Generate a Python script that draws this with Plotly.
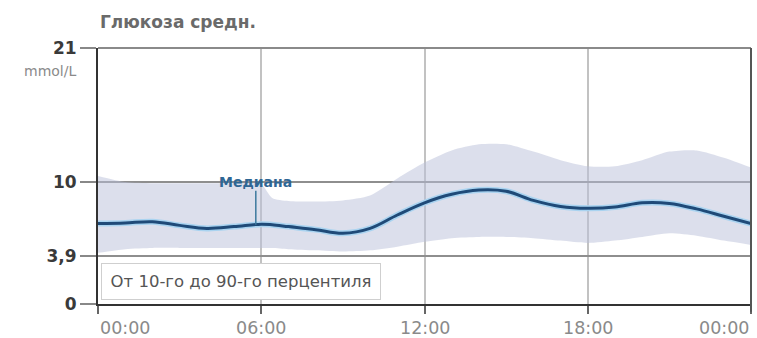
import numpy as np
import plotly.graph_objects as go

# Hour of day for each sample of the ambulatory glucose profile
hours = [0, 1, 2, 3, 4, 5, 6, 6.4, 7, 8, 9, 10, 11, 12, 13, 14, 15, 16, 17, 18, 19, 20, 21, 22, 23, 24]
# Median glucose, mmol/L
median = [6.6, 6.65, 6.75, 6.45, 6.2, 6.35, 6.55, 6.5, 6.35, 6.1, 5.8, 6.2, 7.3, 8.3, 9.0, 9.35, 9.25, 8.5, 8.0, 7.85, 7.95, 8.3, 8.25, 7.8, 7.2, 6.6]
# 90th percentile, mmol/L
p90 = [10.5, 10.0, 9.9, 9.9, 9.9, 9.9, 9.8, 8.7, 8.45, 8.4, 8.5, 8.9, 10.3, 11.6, 12.6, 13.1, 13.1, 12.5, 11.8, 11.3, 11.3, 11.8, 12.5, 12.6, 12.0, 11.2]
# 10th percentile, mmol/L
p10 = [4.2, 4.5, 4.6, 4.6, 4.6, 4.6, 4.6, 4.6, 4.5, 4.4, 4.3, 4.4, 4.7, 5.1, 5.4, 5.5, 5.5, 5.4, 5.2, 5.0, 5.2, 5.5, 5.8, 5.6, 5.2, 4.85]

y_ticks = [0, 3.9, 10, 21]
y_tick_text = ["0", "3,9", "10", "21"]
x_ticks = [0, 6, 12, 18, 24]
x_tick_text = ["00:00", "06:00", "12:00", "18:00", "00:00"]
x_tick_anchor = ["left", "center", "center", "center", "right"]

median_label_hour = 5.8

FONT = "DejaVu Sans"

fig = go.Figure()

# percentile band
fig.add_trace(go.Scatter(x=hours, y=p10, mode="lines",
                         line=dict(width=0, shape="spline", smoothing=0.7),
                         hoverinfo="skip", showlegend=False))
fig.add_trace(go.Scatter(x=hours, y=p90, mode="lines",
                         line=dict(width=0, shape="spline", smoothing=0.7),
                         fill="tonexty", fillcolor="rgba(186,192,218,0.5)",
                         hoverinfo="skip", showlegend=False))
# median line with a soft light-blue edge
fig.add_trace(go.Scatter(x=hours, y=median, mode="lines",
                         line=dict(width=6, color="#a9d3f0", shape="spline"),
                         hoverinfo="skip", showlegend=False))
fig.add_trace(go.Scatter(x=hours, y=median, mode="lines",
                         line=dict(width=3, color="#1f4a78", shape="spline"),
                         showlegend=False))

# pointer from the "Медиана" label to the curve
fig.add_shape(type="line", xref="x", yref="y",
              x0=median_label_hour, x1=median_label_hour,
              y0=float(np.interp(median_label_hour, hours, median)), y1=9.3,
              line=dict(color="#3d7a9e", width=1.5))

# top and right frame
fig.add_shape(type="line", xref="paper", yref="paper", x0=0, x1=1, y0=1, y1=1,
              line=dict(color="#8a8a8a", width=2))
fig.add_shape(type="line", xref="paper", yref="paper", x0=1, x1=1, y0=-0.03, y1=1,
              line=dict(color="#555555", width=2))

annotations = [
    dict(text="<b>Глюкоза средн.</b>", xref="paper", yref="paper", x=0, y=1.1,
         xanchor="left", yanchor="middle", showarrow=False,
         font=dict(family=FONT, size=17, color="#6a6a6a")),
    dict(text="mmol/L", xref="paper", yref="paper", x=-0.03, y=0.91,
         xanchor="right", yanchor="middle", showarrow=False,
         font=dict(family=FONT, size=14, color="#8a8a8a")),
    dict(text="<b>Медиана</b>", xref="x", yref="y", x=median_label_hour, y=10,
         xanchor="center", yanchor="middle", showarrow=False,
         font=dict(family=FONT, size=14, color="#2f6694")),
    dict(text="От 10-го до 90-го перцентиля", xref="x", yref="y", x=0, y=0,
         xanchor="left", yanchor="bottom", xshift=3, yshift=4, showarrow=False,
         width=274, height=31, borderpad=2, borderwidth=1, bordercolor="#cfcfcf",
         bgcolor="white", align="center",
         font=dict(family=FONT, size=16.5, color="#555555")),
]
for xv, txt, anc in zip(x_ticks, x_tick_text, x_tick_anchor):
    annotations.append(dict(text=txt, xref="x", yref="y", x=xv, y=0, xanchor=anc,
                            yanchor="top", yshift=-12, showarrow=False,
                            font=dict(family=FONT, size=17.5, color="#8a8a8a")))

fig.update_layout(
    width=757, height=338,
    margin=dict(l=97.5, r=5.5, t=48, b=34),
    paper_bgcolor="white", plot_bgcolor="white",
    annotations=annotations,
    showlegend=False,
)
fig.update_xaxes(range=[0, 24], tickvals=x_ticks, showticklabels=False,
                 ticks="outside", ticklen=8, tickwidth=1.5, tickcolor="#666666",
                 showgrid=True, gridcolor="#c2c2c2", gridwidth=2,
                 showline=True, linecolor="#333333", linewidth=2, zeroline=False)
fig.update_yaxes(range=[0, 21], tickvals=y_ticks, ticktext=y_tick_text,
                 ticks="outside", ticklen=16, tickwidth=1.5, tickcolor="#888888",
                 tickfont=dict(family=FONT, size=17, color="#3a3a3a", weight="bold"),
                 showgrid=True, gridcolor="#8e8e8e", gridwidth=1.5,
                 showline=True, linecolor="#333333", linewidth=2, zeroline=False)

fig.write_html("out.html")
